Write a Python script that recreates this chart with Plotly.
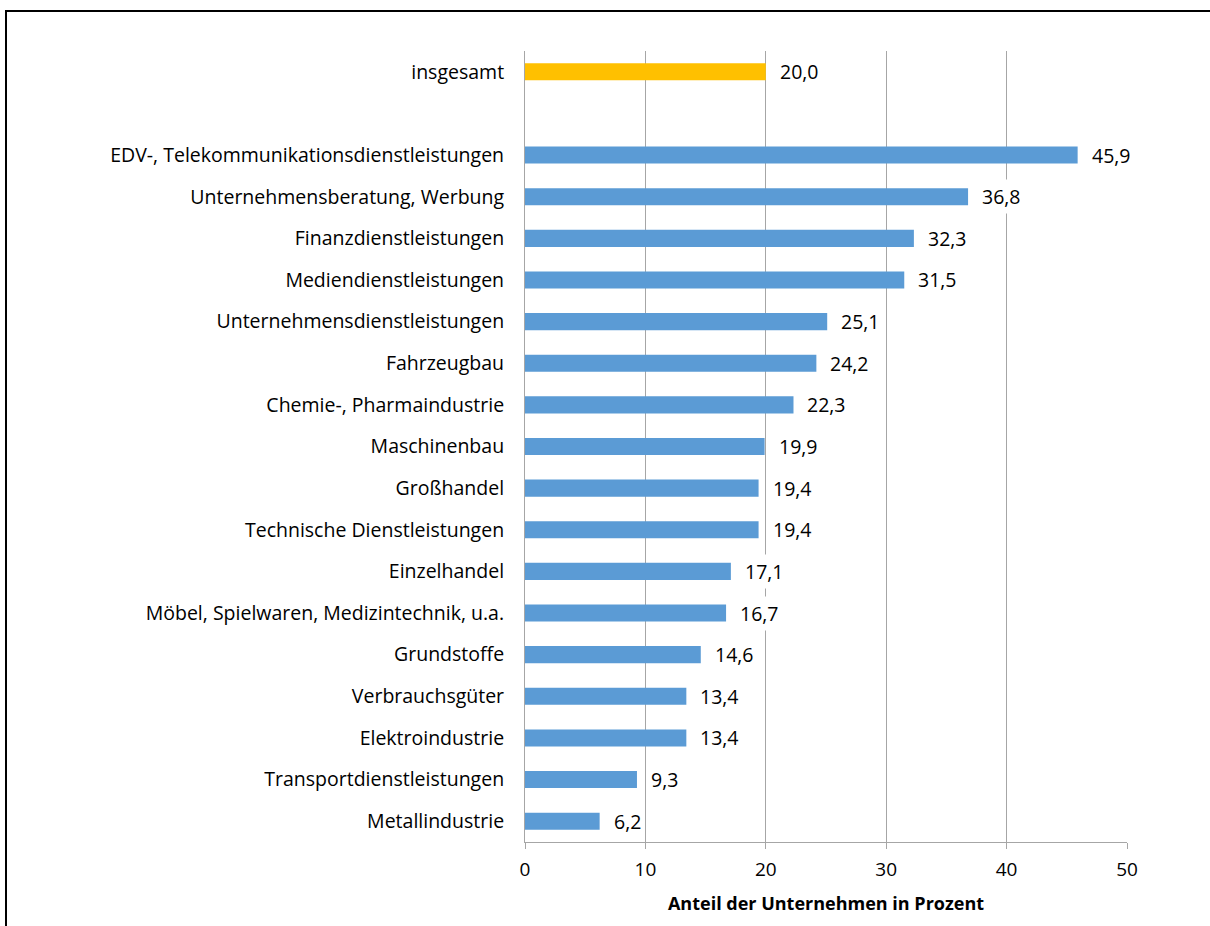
import plotly.graph_objects as go

total_label = "insgesamt"
total_value = 20.0

categories = [
    "EDV-, Telekommunikationsdienstleistungen",
    "Unternehmensberatung, Werbung",
    "Finanzdienstleistungen",
    "Mediendienstleistungen",
    "Unternehmensdienstleistungen",
    "Fahrzeugbau",
    "Chemie-, Pharmaindustrie",
    "Maschinenbau",
    "Großhandel",
    "Technische Dienstleistungen",
    "Einzelhandel",
    "Möbel, Spielwaren, Medizintechnik, u.a.",
    "Grundstoffe",
    "Verbrauchsgüter",
    "Elektroindustrie",
    "Transportdienstleistungen",
    "Metallindustrie",
]
values = [45.9, 36.8, 32.3, 31.5, 25.1, 24.2, 22.3, 19.9, 19.4, 19.4,
          17.1, 16.7, 14.6, 13.4, 13.4, 9.3, 6.2]
x_ticks = [0, 10, 20, 30, 40, 50]
x_title = "Anteil der Unternehmen in Prozent"

FONT = "Open Sans"
FS = 19.5
W, H = 1210, 926
L, R, T, B = 525, 83, 51, 84

n_slots = len(categories) + 2
total_pos = n_slots - 1
cat_pos = [len(categories) - 1 - i for i in range(len(categories))]

def fmt(v):
    return f"{v:.1f}".replace(".", ",")

fig = go.Figure()
fig.add_trace(go.Bar(
    x=[total_value], y=[total_pos], orientation="h",
    marker=dict(color="#FFC000", line=dict(width=0)),
    width=0.41, showlegend=False, hoverinfo="skip",
))
fig.add_trace(go.Bar(
    x=values, y=cat_pos, orientation="h",
    marker=dict(color="#5B9BD5", line=dict(width=0)),
    width=0.41, showlegend=False, hoverinfo="skip",
))

for v, p in [(total_value, total_pos)] + list(zip(values, cat_pos)):
    fig.add_annotation(
        x=v, y=p, xref="x", yref="y", text=fmt(v), showarrow=False,
        xanchor="left", yanchor="middle", xshift=10, borderpad=3,
        bgcolor="white", font=dict(family=FONT, size=FS, color="black"),
    )

pw = W - L - R
ph = H - T - B
fig.add_shape(
    type="rect", xref="paper", yref="paper",
    x0=(6 - L) / pw, x1=(W + 10 - L) / pw,
    y0=(H - B - (H + 10)) / ph, y1=(H - B - 11) / ph,
    line=dict(color="black", width=2), fillcolor="rgba(0,0,0,0)", layer="above",
)

fig.update_layout(
    width=W, height=H,
    margin=dict(l=L, r=R, t=T, b=B, autoexpand=False),
    plot_bgcolor="white", paper_bgcolor="white",
    font=dict(family=FONT, size=FS, color="black"),
    bargap=0.59,
    hovermode=False,
    xaxis=dict(
        range=[0, 50], tickvals=x_ticks, ticktext=[str(t) for t in x_ticks],
        showgrid=True, gridcolor="#A6A6A6", gridwidth=1,
        showline=True, linecolor="#A6A6A6", linewidth=1,
        ticks="outside", ticklen=6, tickcolor="#A6A6A6",
        ticklabelstandoff=4,
        zeroline=False, fixedrange=True,
        tickfont=dict(family=FONT, size=19, color="black"),
        title=dict(text="<b>" + x_title + "</b>", standoff=16,
                   font=dict(family=FONT, size=18, color="black")),
    ),
    yaxis=dict(
        range=[-0.5, n_slots - 0.5],
        tickvals=[total_pos] + cat_pos,
        ticktext=[total_label] + categories,
        showgrid=False, zeroline=False, fixedrange=True,
        showline=True, linecolor="#A6A6A6", linewidth=1,
        ticks="", ticklabelstandoff=16,
        tickfont=dict(family=FONT, size=FS, color="black"),
    ),
)

fig.write_html("out.html", config={"displayModeBar": False},
               post_script="document.body.style.margin='0px';")
